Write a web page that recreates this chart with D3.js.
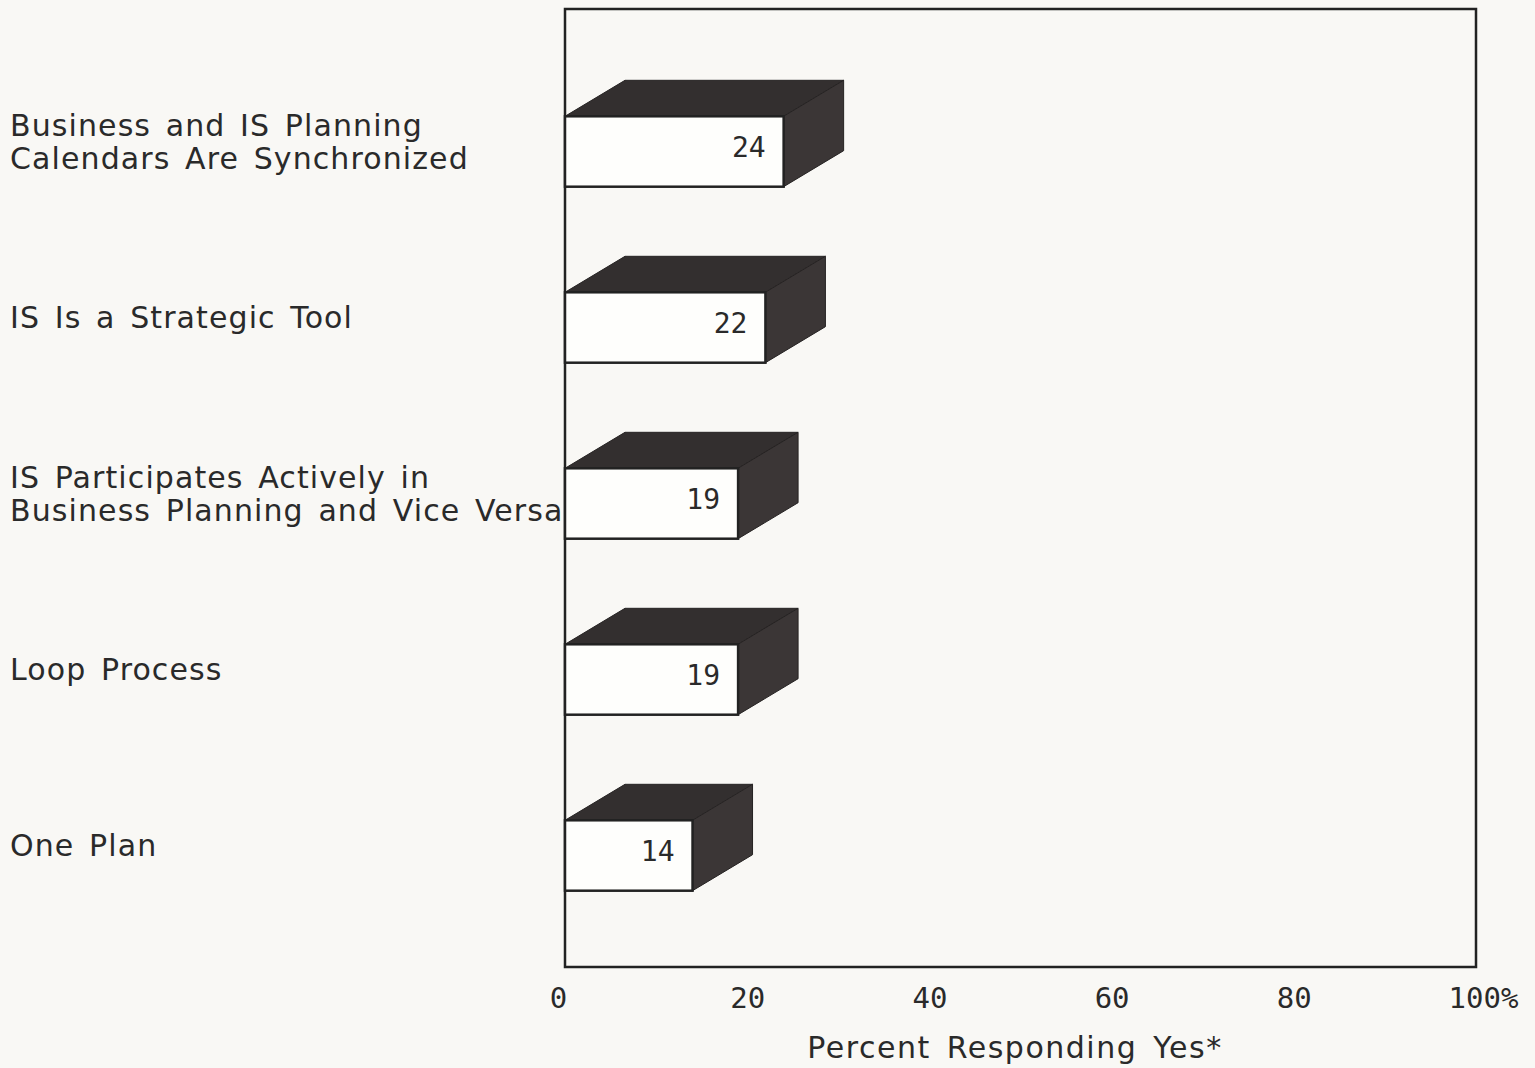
<!DOCTYPE html>
<html>
<head>
<meta charset="utf-8">
<script src="https://cdn.jsdelivr.net/npm/d3@7"></script>
<style>
  body { margin: 0; background: #f9f8f5; }
  svg { display: block; }
</style>
</head>
<body>
<div id="chart"></div>
<script>
// data
const categories = [
    ["Business and IS Planning", "Calendars Are Synchronized"],
    ["IS Is a Strategic Tool"],
    ["IS Participates Actively in", "Business Planning and Vice Versa"],
    ["Loop Process"],
    ["One Plan"]
];
const values = [24, 22, 19, 19, 14];
const tickValues = [0, 20, 40, 60, 80, 100];
const axisTitle = "Percent Responding Yes*";

const W = 1535, H = 1068;
const frame = { left: 565, right: 1476, top: 9, bottom: 967 };
const depth = { dx: 60, dy: 36 };
const labelFont = "'DejaVu Sans', sans-serif";
const numFont = "'DejaVu Sans Mono', monospace";
const lineGap = 33;

const svg = d3.select("#chart")
    .append("svg")
    .attr("width", W)
    .attr("height", H);

svg.append("rect")
    .attr("width", W)
    .attr("height", H)
    .attr("fill", "#f9f8f5");

const keys = categories.map((d, i) => i);

const x = d3.scaleLinear()
    .domain([0, 100])
    .range([frame.left, frame.right]);

const y = d3.scaleBand()
    .domain(keys)
    .range([63.5, 943.5])
    .paddingInner(0.6)
    .paddingOuter(0.3);

// frame
svg.append("rect")
    .attr("x", frame.left)
    .attr("y", frame.top)
    .attr("width", frame.right - frame.left)
    .attr("height", frame.bottom - frame.top)
    .attr("fill", "none")
    .attr("stroke", "#222")
    .attr("stroke-width", 2.5);

// 3d bars
const bars = svg.append("g").selectAll("g")
    .data(values)
    .enter().append("g");

const h = y.bandwidth();

bars.append("path")
    .attr("d", (d, i) => {
        const x0 = x(0), x1 = x(d), y0 = y(i);
        return `M${x0},${y0}L${x0 + depth.dx},${y0 - depth.dy}L${x1 + depth.dx},${y0 - depth.dy}L${x1},${y0}Z`;
    })
    .attr("fill", "#332f2f")
    .attr("stroke", "#262323")
    .attr("stroke-width", 1);

bars.append("path")
    .attr("d", (d, i) => {
        const x1 = x(d), y0 = y(i);
        return `M${x1},${y0}L${x1 + depth.dx},${y0 - depth.dy}L${x1 + depth.dx},${y0 + h - depth.dy}L${x1},${y0 + h}Z`;
    })
    .attr("fill", "#3b3636")
    .attr("stroke", "#262323")
    .attr("stroke-width", 1);

bars.append("rect")
    .attr("x", x(0))
    .attr("y", (d, i) => y(i))
    .attr("width", d => x(d) - x(0))
    .attr("height", h)
    .attr("fill", "#fefefc")
    .attr("stroke", "#222")
    .attr("stroke-width", 2.5);

bars.append("text")
    .attr("x", d => x(d) - 18)
    .attr("y", (d, i) => y(i) + h / 2)
    .attr("dy", "0.2em")
    .attr("text-anchor", "end")
    .attr("font-family", numFont)
    .attr("font-size", 28)
    .attr("fill", "#2a2a2a")
    .text(d => d);

// category labels
const labels = svg.append("g").selectAll("text")
    .data(categories)
    .enter().append("text")
    .attr("font-family", labelFont)
    .attr("font-size", 30)
    .attr("letter-spacing", 1.1)
    .attr("word-spacing", 4)
    .attr("fill", "#2a2a2a")
    .attr("y", (d, i) => y(i) + h / 2 - (d.length - 1) * 16);

labels.selectAll("tspan")
    .data(d => d)
    .enter().append("tspan")
    .attr("x", 10)
    .attr("dy", (d, j) => j === 0 ? 0 : lineGap)
    .text(d => d);

// x axis
const axis = svg.append("g")
    .attr("transform", `translate(0,${frame.bottom})`)
    .call(d3.axisBottom(x)
        .tickValues(tickValues)
        .tickSize(0)
        .tickPadding(20)
        .tickFormat(d => d === 100 ? "100%" : d));

axis.select(".domain").remove();
axis.selectAll("text")
    .attr("font-family", numFont)
    .attr("font-size", 29)
    .attr("fill", "#2a2a2a")
    .attr("text-anchor", d => d === 100 ? "start" : "middle")
    .attr("dx", d => d === 100 ? -28 : d === 0 ? -7 : 0);

svg.append("text")
    .attr("x", 1015)
    .attr("y", 1058)
    .attr("text-anchor", "middle")
    .attr("font-family", labelFont)
    .attr("font-size", 30)
    .attr("letter-spacing", 1.5)
    .attr("word-spacing", 5)
    .attr("fill", "#2a2a2a")
    .text(axisTitle);
</script>
</body>
</html>
